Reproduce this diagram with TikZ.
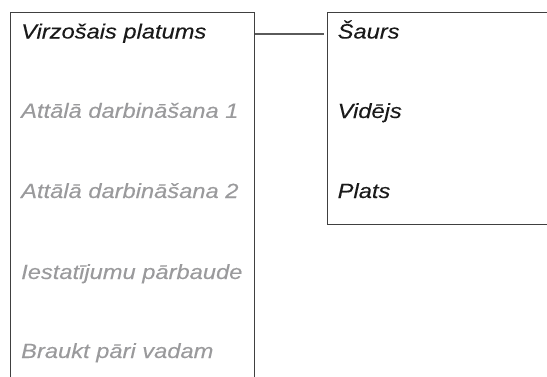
\documentclass[tikz,border=0pt]{standalone}
\usepackage{fontspec}
\newfontfamily\labfont{Liberation Sans}[FakeStretch=1.15,FakeBold=0.15]
\definecolor{edge}{HTML}{404040}
\definecolor{link}{HTML}{5A5A5A}
\definecolor{ink}{HTML}{1A1A1A}
\definecolor{dim}{HTML}{9A9A9C}
\tikzset{
  box/.style={draw=edge, line width=1.3pt, inner sep=0pt, anchor=north west},
  lab/.style={inner sep=0pt, anchor=base west, font=\labfont\itshape\fontsize{20.6}{24}\selectfont, text=ink},
  labdim/.style={lab, text=dim},
  conn/.style={draw=link, line width=1.3pt}
}
\begin{document}
\begin{tikzpicture}[x=1pt,y=-1pt]
\useasboundingbox (0,0) rectangle (547,376);
\clip (0,0) rectangle (547,376);
\node[box, minimum width=244pt, minimum height=400pt] (lbox) at (10,12) {};
\node[box, minimum width=222pt, minimum height=212pt] (rbox) at (326.7,12) {};
\node[lab] (m1) at (21,38.5) {Virzošais platums};
\node[labdim] (m2) at (21,117.8) {Attālā darbināšana 1};
\node[labdim] (m3) at (21,198) {Attālā darbināšana 2};
\node[labdim] (m4) at (21,279) {Iestatījumu pārbaude};
\node[labdim] (m5) at (21,358) {Braukt pāri vadam};
\node[lab] (s1) at (337.5,38.5) {Šaurs};
\node[lab] (s2) at (337.5,118) {Vidējs};
\node[lab] (s3) at (337.5,198) {Plats};
\coordinate (ce) at (323.5,34);
\draw[conn] (lbox.east |- ce) -- (ce);
\end{tikzpicture}
\end{document}
